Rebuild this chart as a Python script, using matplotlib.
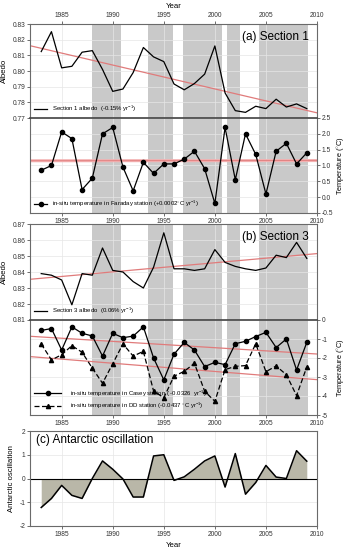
import matplotlib
matplotlib.use('Agg')
import matplotlib.pyplot as plt

plt.rcParams['font.family'] = ['Liberation Sans', 'DejaVu Sans']
plt.rcParams['mathtext.fontset'] = 'custom'
plt.rcParams['mathtext.rm'] = 'Liberation Sans'
plt.rcParams['axes.unicode_minus'] = False

years = list(range(1983, 2010))

albedo_s1 = [0.8124, 0.8251, 0.802, 0.803, 0.812, 0.813, 0.801, 0.787, 0.7885,
             0.799, 0.815, 0.809, 0.806, 0.7917, 0.788, 0.792, 0.798, 0.816,
             0.786, 0.7747, 0.7736, 0.7775, 0.776, 0.782, 0.777, 0.779, 0.776]
temp_faraday = [0.85, 1.0, 2.06, 1.85, 0.24, 0.6, 2.0, 2.2, 0.95, 0.2, 1.1, 0.75,
                1.05, 1.05, 1.2, 1.45, 0.9, -0.2, 2.2, 0.55, 2.0, 1.35, 0.1, 1.45,
                1.7, 1.05, 1.4]
albedo_s3 = [0.839, 0.838, 0.835, 0.8195, 0.839, 0.838, 0.855, 0.841, 0.840,
             0.834, 0.830, 0.843, 0.8645, 0.842, 0.842, 0.841, 0.842, 0.854,
             0.846, 0.8435, 0.842, 0.841, 0.8425, 0.8505, 0.849, 0.8585, 0.8485]
temp_casey = [-0.55, -0.45, -1.58, -0.36, -0.7, -0.84, -1.9, -0.7, -0.93, -0.85,
              -0.36, -2.0, -3.15, -1.8, -1.18, -1.58, -2.45, -2.23, -2.35, -1.25,
              -1.12, -0.87, -0.65, -1.45, -1.0, -2.63, -1.18]
temp_dd = [-1.26, -2.1, -1.83, -1.35, -1.7, -2.53, -3.33, -2.3, -1.26, -1.9,
           -1.65, -3.74, -4.09, -2.96, -2.7, -2.28, -3.75, -4.28, -2.61, -2.44,
           -2.4, -1.25, -2.72, -2.42, -2.88, -3.98, -2.47]
aao = [-1.22, -0.84, -0.29, -0.71, -0.84, 0.0, 0.74, 0.39, -0.02, -0.78, -0.78,
       0.95, 1.0, -0.08, 0.07, 0.39, 0.74, 0.95, -0.36, 1.05, -0.66, -0.17, 0.55,
       0.06, 0.0, 1.17, 0.73]

# trend lines, read at both ends of the year axis
trend_years = [1982, 2010]
trend_s1 = [0.816, 0.7733]
trend_faraday = [1.15, 1.156]
trend_s3 = [0.8355, 0.8515]
trend_casey = [-0.86, -1.79]
trend_dd = [-1.93, -3.14]

# gray periods
bands = [(1988.0, 1990.85), (1993.5, 1995.9), (1996.9, 2000.65),
         (2001.2, 2002.5), (2004.3, 2009.1)]

xticks = [1985, 1990, 1995, 2000, 2005, 2010]
band_col = '#c9c9c9'
trend_col = '#e07b7b'
frame_col = '#6a6a6a'
fs_tick = 4.8
fs_lab = 5.6

fig = plt.figure(figsize=(3.47, 5.5), dpi=100)
L, W = 30 / 347, 287 / 347


def box(top, bottom):
    return [L, 1 - bottom / 550, W, (bottom - top) / 550]


def style(ax):
    ax.set_xlim(1981.9, 2010)
    ax.set_xticks(xticks)
    ax.grid(True, color='#e6e6e6', lw=0.5, zorder=0)
    ax.set_axisbelow(True)
    for s in ax.spines.values():
        s.set_color(frame_col)
        s.set_linewidth(0.8)
    ax.tick_params(labelsize=fs_tick, length=2, width=0.5, pad=1.5, colors='#333333')
    for a, b in bands:
        ax.axvspan(a, b, color=band_col, lw=0, zorder=0.5)


# ---- (a) Section 1 ----
ax1 = fig.add_axes(box(24, 118))
style(ax1)
ax1.plot(trend_years, trend_s1, color=trend_col, lw=0.9, zorder=2)
ax1.plot(years, albedo_s1, color='black', lw=0.9, zorder=3,
         label=r'Section 1 albedo  (-0.15% yr$^{-1}$)')
ax1.set_ylim(0.77, 0.83)
ax1.set_yticks([0.77, 0.78, 0.79, 0.80, 0.81, 0.82, 0.83])
ax1.set_yticklabels(['0.77', '0.78', '0.79', '0.80', '0.81', '0.82', '0.83'])
ax1.xaxis.tick_top()
ax1.xaxis.set_label_position('top')
ax1.set_xlabel('Year', fontsize=fs_lab, labelpad=3)
ax1.set_ylabel('Albedo', fontsize=fs_lab, labelpad=3)
ax1.text(0.97, 0.93, '(a) Section 1', transform=ax1.transAxes, ha='right', va='top',
         fontsize=8.5, zorder=5)
ax1.legend(loc='lower left', frameon=False, fontsize=4.3, handlelength=2.2,
           borderaxespad=0.3, handletextpad=0.8)

ax2 = fig.add_axes(box(118, 213))
style(ax2)
ax2.plot(trend_years, trend_faraday, color='#f3b1b1', lw=2.2, zorder=2)
ax2.plot(trend_years, trend_faraday, color=trend_col, lw=0.6, zorder=2)
ax2.plot(years, temp_faraday, color='black', lw=0.9, marker='o', ms=3.0, zorder=3,
         label=r'in-situ temperature in Faraday station (+0.0002$^{\circ}$C yr$^{-1}$)')
ax2.set_ylim(-0.5, 2.5)
ax2.set_yticks([-0.5, 0.0, 0.5, 1.0, 1.5, 2.0, 2.5])
ax2.set_yticklabels(['-0.5', '0.0', '0.5', '1.0', '1.5', '2.0', '2.5'])
ax2.yaxis.tick_right()
ax2.yaxis.set_label_position('right')
ax2.set_ylabel('Temperature ($^{\\circ}$C)', fontsize=5.3, labelpad=1.5)
ax2.spines['top'].set_color('#444444')
ax2.spines['top'].set_linewidth(1.2)
ax2.legend(loc='lower left', frameon=False, fontsize=4.3, handlelength=2.2,
           borderaxespad=0.3, handletextpad=0.8)

# ---- (b) Section 3 ----
ax3 = fig.add_axes(box(224, 320))
style(ax3)
ax3.plot(trend_years, trend_s3, color=trend_col, lw=0.9, zorder=2)
ax3.plot(years, albedo_s3, color='black', lw=0.9, zorder=3,
         label=r'Section 3 albedo  (0.06% yr$^{-1}$)')
ax3.set_ylim(0.81, 0.87)
ax3.set_yticks([0.81, 0.82, 0.83, 0.84, 0.85, 0.86, 0.87])
ax3.set_yticklabels(['0.81', '0.82', '0.83', '0.84', '0.85', '0.86', '0.87'])
ax3.tick_params(axis='x', labelbottom=False)
ax3.set_ylabel('Albedo', fontsize=fs_lab, labelpad=3)
ax3.text(0.97, 0.93, '(b) Section 3', transform=ax3.transAxes, ha='right', va='top',
         fontsize=8.5, zorder=5)
ax3.legend(loc='lower left', frameon=False, fontsize=4.3, handlelength=2.2,
           borderaxespad=0.3, handletextpad=0.8)

ax4 = fig.add_axes(box(320, 415))
style(ax4)
ax4.plot(trend_years, trend_casey, color=trend_col, lw=0.9, zorder=2)
ax4.plot(trend_years, trend_dd, color=trend_col, lw=0.9, zorder=2)
ax4.plot(years, temp_casey, color='black', lw=0.9, marker='o', ms=3.0, zorder=3,
         label=r'in-situ temperature in Casey station ( -0.0326  yr$^{-1}$)')
ax4.plot(years, temp_dd, color='black', lw=0.9, ls=(0, (4, 2)), marker='^', ms=3.0,
         zorder=3, label=r'in-situ temperature in DD station (-0.0437 $^{\circ}$C yr$^{-1}$)')
ax4.set_ylim(-5, 0)
ax4.set_yticks([-5, -4, -3, -2, -1, 0])
ax4.yaxis.tick_right()
ax4.yaxis.set_label_position('right')
ax4.set_ylabel('Temperature ($^{\\circ}$C)', fontsize=5.3, labelpad=5)
ax4.spines['top'].set_color('#444444')
ax4.spines['top'].set_linewidth(1.2)
ax4.legend(loc='lower left', frameon=False, fontsize=4.3, handlelength=4.5,
           borderaxespad=0.3, handletextpad=1.5, labelspacing=0.3)

# ---- (c) Antarctic oscillation ----
ax5 = fig.add_axes(box(431, 526))
ax5.set_xlim(1981.9, 2010)
ax5.set_xticks(xticks)
ax5.grid(True, color='#e6e6e6', lw=0.5, zorder=0)
ax5.set_axisbelow(True)
for s in ax5.spines.values():
    s.set_color(frame_col)
    s.set_linewidth(0.8)
ax5.tick_params(labelsize=fs_tick, length=2, width=0.5, pad=1.5, colors='#333333')
ax5.fill_between(years, aao, 0, color='#b9b7a8', lw=0, zorder=1)
ax5.axhline(0, color='black', lw=0.8, zorder=2)
ax5.plot(years, aao, color='black', lw=1.1, zorder=3)
ax5.set_ylim(-2, 2)
ax5.set_yticks([-2, -1, 0, 1, 2])
ax5.set_xlabel('Year', fontsize=fs_lab, labelpad=3)
ax5.set_ylabel('Antarctic oscillation', fontsize=fs_lab, labelpad=3)
ax5.text(0.02, 0.97, '(c) Antarctic oscillation', transform=ax5.transAxes,
         ha='left', va='top', fontsize=8.5, zorder=5)

fig.savefig('out.png', dpi=100)
